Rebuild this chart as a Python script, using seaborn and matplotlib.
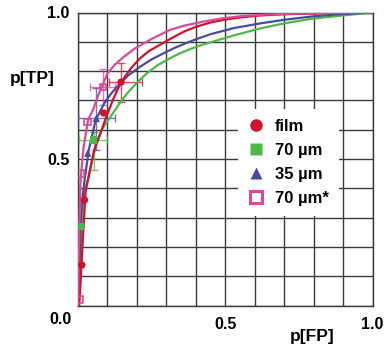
import numpy as np
import pandas as pd
import matplotlib
matplotlib.use("Agg")
import matplotlib.pyplot as plt
import seaborn as sns
from matplotlib.lines import Line2D

# ---- data ----
film_curve_fp = [0.004, 0.010, 0.015, 0.020, 0.026, 0.040, 0.055, 0.075, 0.100, 0.120, 0.146, 0.18, 0.21, 0.24, 0.27, 0.31, 0.36, 0.40, 0.45, 0.50, 0.56, 0.62, 0.70, 0.85, 1.0]
film_curve_tp = [0.000, 0.100, 0.200, 0.290, 0.390, 0.460, 0.530, 0.585, 0.655, 0.705, 0.762, 0.810, 0.843, 0.868, 0.885, 0.908, 0.935, 0.951, 0.966, 0.976, 0.984, 0.990, 0.994, 0.998, 1.0]

g70_curve_fp = [0.003, 0.008, 0.013, 0.025, 0.0375, 0.049, 0.066, 0.085, 0.111, 0.14, 0.167, 0.20, 0.233, 0.27, 0.311, 0.34, 0.378, 0.41, 0.449, 0.53, 0.62, 0.70, 0.79, 0.90, 1.0]
g70_curve_tp = [0.000, 0.150, 0.300, 0.400, 0.444, 0.500, 0.565, 0.607, 0.645, 0.688, 0.724, 0.760, 0.792, 0.820, 0.843, 0.858, 0.874, 0.886, 0.898, 0.922, 0.946, 0.963, 0.978, 0.990, 1.0]

b35_curve_fp = [0.000, 0.004, 0.008, 0.013, 0.023, 0.037, 0.060, 0.089, 0.11, 0.133, 0.17, 0.211, 0.25, 0.289, 0.33, 0.378, 0.41, 0.45, 0.53, 0.62, 0.70, 0.79, 0.90, 1.0]
b35_curve_tp = [0.000, 0.120, 0.250, 0.350, 0.433, 0.533, 0.633, 0.690, 0.720, 0.747, 0.785, 0.815, 0.840, 0.860, 0.880, 0.900, 0.912, 0.926, 0.947, 0.963, 0.975, 0.986, 0.995, 1.0]

p70s_curve_fp = [0.000, 0.002, 0.005, 0.009, 0.018, 0.034, 0.052, 0.067, 0.100, 0.125, 0.156, 0.19, 0.222, 0.26, 0.311, 0.36, 0.426, 0.49, 0.56, 0.64, 0.75, 1.0]
p70s_curve_tp = [0.000, 0.150, 0.300, 0.433, 0.533, 0.633, 0.670, 0.713, 0.792, 0.822, 0.849, 0.875, 0.894, 0.915, 0.940, 0.955, 0.969, 0.980, 0.988, 0.993, 0.997, 1.0]

film_pts_fp = [0.013, 0.022, 0.087, 0.146]
film_pts_tp = [0.138, 0.360, 0.657, 0.762]
g70_pts_fp = [0.008, 0.053]
g70_pts_tp = [0.270, 0.565]
b35_pts_fp = [0.033, 0.062]
b35_pts_tp = [0.520, 0.639]
p70s_pts_fp = [0.005, 0.008, 0.033, 0.085]
p70s_pts_tp = [0.020, 0.451, 0.627, 0.745]

# error bars: (fp, tp, x_lo, x_hi, y_lo, y_hi)
film_err = [0.146, 0.762, 0.042, 0.071, 0.066, 0.066]
g70_err = [0.053, 0.565, 0.048, 0.044, 0.103, 0.028]
b35_err = [0.062, 0.639, 0.062, 0.065, 0.109, 0.104]
p70s_err = [0.085, 0.745, 0.043, 0.039, 0.061, 0.061]

labels = ["film", "70 µm", "35 µm", "70 µm*"]
colors = ["#d0122c", "#4cb848", "#4a4a9e", "#d94a98"]

# ---- figure ----
fig = plt.figure(figsize=(3.84, 3.51), dpi=100)
ax = fig.add_axes([78 / 384, 1 - 305.5 / 351, 294.5 / 384, 293 / 351])
ax.set_facecolor("white")

series = [
    (film_curve_fp, film_curve_tp, film_pts_fp, film_pts_tp, film_err, "o"),
    (g70_curve_fp, g70_curve_tp, g70_pts_fp, g70_pts_tp, g70_err, "s"),
    (b35_curve_fp, b35_curve_tp, b35_pts_fp, b35_pts_tp, b35_err, "^"),
    (p70s_curve_fp, p70s_curve_tp, p70s_pts_fp, p70s_pts_tp, p70s_err, "s"),
]
order = [1, 2, 0, 3]
for i in order:
    cfp, ctp, pfp, ptp, err, mk = series[i]
    c = colors[i]
    df = pd.DataFrame({"fp": cfp, "tp": ctp})
    sns.lineplot(data=df, x="fp", y="tp", sort=False, estimator=None,
                 color=c, lw=1.6, ax=ax, zorder=4)
    ex, ey, xl, xh, yl, yh = err
    ax.errorbar([ex], [ey], xerr=[[xl], [xh]], yerr=[[yl], [yh]], fmt="none",
                ecolor=c, elinewidth=1.0, capsize=3, capthick=1.0, alpha=0.75, zorder=3)
    if i == 3:
        ax.scatter(pfp, ptp, marker="s", s=22, facecolor="none", edgecolor=c,
                   linewidth=1.2, zorder=5)
    else:
        ax.scatter(pfp, ptp, marker=mk, s=28, color=c, edgecolor="none", zorder=5)

ax.set_xlim(0, 1)
ax.set_ylim(0, 1)
ax.set_xticks([0.5, 1.0])
ax.set_yticks([0.5, 1.0])
ax.set_xticks(np.arange(0, 1.01, 0.1), minor=True)
ax.set_yticks(np.arange(0, 1.01, 0.1), minor=True)
ax.set_xticklabels(["0.5", "1.0"])
ax.set_yticklabels(["0.5", "1.0"])
ax.grid(True, which="both", color="#3a3a3a", lw=1.0)
ax.set_axisbelow(True)
ax.tick_params(which="both", length=0)
ax.tick_params(axis="x", pad=8)
ax.tick_params(axis="y", pad=6)
for lab in ax.get_xticklabels() + ax.get_yticklabels():
    lab.set_fontfamily("Liberation Sans")
    lab.set_fontweight("bold")
    lab.set_fontsize(11.5)
for s in ax.spines.values():
    s.set_color("#3a3a3a")
    s.set_linewidth(1.0)
ax.set_xlabel("")
ax.set_ylabel("")

fig.text(72 / 384, 1 - 320 / 351, "0.0", ha="right", va="center",
         fontfamily="Liberation Sans", fontweight="bold", fontsize=11.5)
fig.text(32 / 384, 1 - 79 / 351, "p[TP]", ha="center", va="center",
         fontfamily="Liberation Sans", fontweight="bold", fontsize=12.5)
fig.text(312 / 384, 1 - 336 / 351, "p[FP]", ha="center", va="center",
         fontfamily="Liberation Sans", fontweight="bold", fontsize=12.5)

handles = [
    Line2D([], [], ls="none", marker="o", ms=9, color=colors[0], mec="none"),
    Line2D([], [], ls="none", marker="s", ms=8, color=colors[1], mec="none"),
    Line2D([], [], ls="none", marker="^", ms=8, color=colors[2], mec="none"),
    Line2D([], [], ls="none", marker="s", ms=9, mfc="white", mec=colors[3], mew=2.2),
]
leg = ax.legend(handles, labels, loc="upper left", bbox_to_anchor=(0.515, 0.70),
                frameon=True, facecolor="white", edgecolor="none", framealpha=1,
                fancybox=False, handlelength=1.0, handletextpad=0.6,
                labelspacing=0.55, borderpad=0.6,
                prop={"family": "Liberation Sans", "weight": "bold", "size": 12})
leg.set_zorder(6)

fig.savefig("out.png", dpi=100)
